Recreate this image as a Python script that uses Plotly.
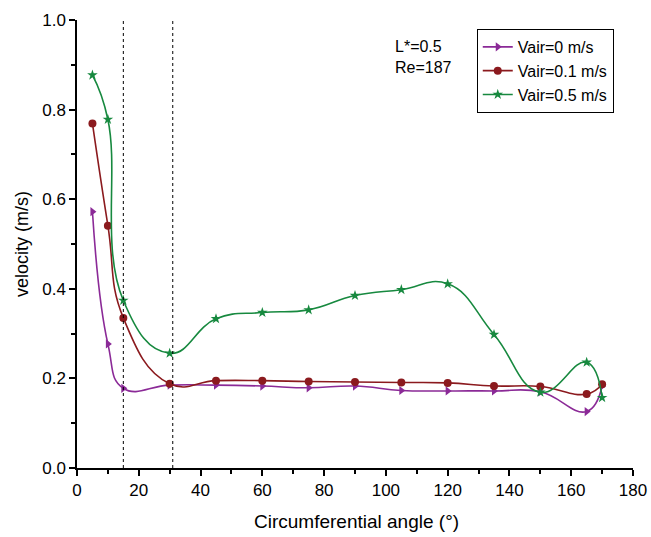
import plotly.graph_objects as go

angles = [5, 10, 15, 30, 45, 60, 75, 90, 105, 120, 135, 150, 165, 170]
v_air0 = [0.572, 0.277, 0.178, 0.185, 0.185, 0.183, 0.179, 0.183, 0.173, 0.172, 0.172, 0.170, 0.126, 0.183]
v_air01 = [0.769, 0.541, 0.335, 0.188, 0.195, 0.195, 0.193, 0.192, 0.191, 0.190, 0.183, 0.182, 0.165, 0.187]
v_air05 = [0.877, 0.778, 0.374, 0.256, 0.333, 0.347, 0.353, 0.385, 0.398, 0.411, 0.298, 0.169, 0.236, 0.157]
ref_lines = [15, 31]

series = [
    ("Vair=0 m/s", v_air0, "#8B2A97", "triangle-right"),
    ("Vair=0.1 m/s", v_air01, "#8B1A1E", "circle"),
    ("Vair=0.5 m/s", v_air05, "#17893F", "star"),
]

fig = go.Figure()
for name, vals, color, sym in series:
    fig.add_trace(go.Scatter(
        x=angles, y=vals, name=name, mode="lines+markers",
        line=dict(color=color, width=1.6, shape="spline", smoothing=1.3),
        marker=dict(symbol=sym, size=8, color=color),
    ))

for xv in ref_lines:
    fig.add_shape(type="line", x0=xv, x1=xv, y0=0, y1=1, xref="x", yref="y",
                  line=dict(color="black", width=1, dash="dot"))

font = "Arial, Liberation Sans, sans-serif"
fig.add_annotation(x=0.568, y=0.965, xref="paper", yref="paper",
                   text="L*=0.5<br>Re=187", showarrow=False, align="left",
                   xanchor="left", yanchor="top", font=dict(family=font, size=16, color="black"))
fig.add_annotation(x=0.502, y=-0.1205, xref="paper", yref="paper",
                   text="Circumferential angle (°)", showarrow=False,
                   xanchor="center", yanchor="middle", font=dict(family=font, size=19, color="black"))
fig.add_annotation(x=-0.099, y=0.5, xref="paper", yref="paper", textangle=-90,
                   text="velocity (m/s)", showarrow=False,
                   xanchor="center", yanchor="middle", font=dict(family=font, size=18, color="black"))

axis_common = dict(showline=True, linecolor="black", linewidth=1.5, ticks="outside",
                   ticklen=6, tickwidth=1.5, tickcolor="black", showgrid=False, zeroline=False,
                   mirror=False, automargin=False, tickfont=dict(family=font, size=17, color="black"))

fig.update_layout(
    width=651, height=537,
    margin=dict(l=77, r=18, t=20, b=69),
    plot_bgcolor="white", paper_bgcolor="white",
    xaxis=dict(range=[0, 180], dtick=20, tick0=0,
               minor=dict(ticks="outside", dtick=10, ticklen=4, tickwidth=1.5, tickcolor="black"),
               **axis_common),
    yaxis=dict(range=[0, 1.0], dtick=0.2, tick0=0, tickformat=".1f",
               minor=dict(ticks="outside", dtick=0.1, ticklen=4, tickwidth=1.5, tickcolor="black"),
               **axis_common),
    legend=dict(x=0.719, y=0.98, xanchor="left", yanchor="top",
                bordercolor="black", borderwidth=1, bgcolor="white",
                font=dict(family=font, size=16, color="black"),
                tracegroupgap=0, itemwidth=30),
    showlegend=True,
)

fig.write_html("out.html", config={"displayModeBar": False},
               post_script="document.body.style.margin='0px';document.body.style.overflow='hidden';")
